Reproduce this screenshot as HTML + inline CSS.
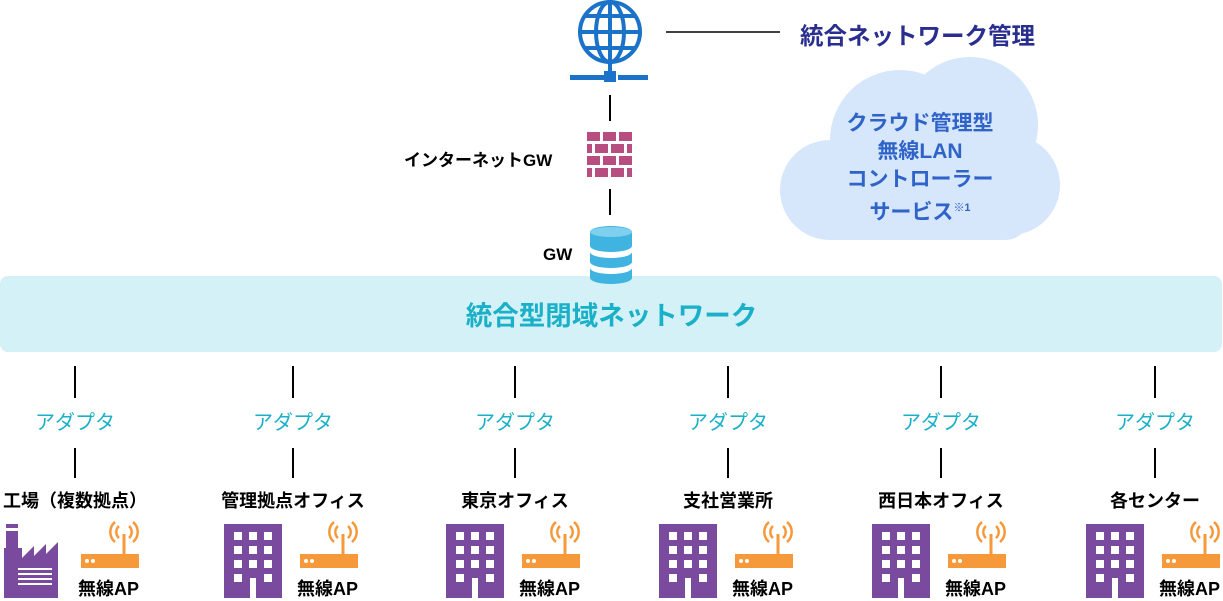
<!DOCTYPE html>
<html><head><meta charset="utf-8"><style>
body{margin:0;width:1223px;height:598px;overflow:hidden;background:#fff;font-family:"Liberation Sans","Noto Sans CJK JP",sans-serif;position:relative}
.a{position:absolute}
.t{position:absolute;white-space:nowrap;font-weight:bold}
</style></head><body>
<svg class="a" style="left:0;top:0" width="1223" height="598" xmlns="http://www.w3.org/2000/svg">
<g stroke="#1a73c8" stroke-width="4" fill="none">
<circle cx="610" cy="32" r="30"/>
<ellipse cx="610" cy="32" rx="14" ry="30"/>
<line x1="610" y1="2" x2="610" y2="62"/>
<line x1="580" y1="32" x2="640" y2="32"/>
<path d="M585 16 H635 M585 48 H635"/>
</g>
<rect x="570" y="75" width="34" height="5" fill="#1a73c8"/>
<rect x="618" y="75" width="30" height="5" fill="#1a73c8"/>
<rect x="604" y="71" width="12" height="11" fill="#1a73c8"/>
<line x1="610" y1="62" x2="610" y2="72" stroke="#1a73c8" stroke-width="4"/>
<line x1="666" y1="32" x2="780" y2="32" stroke="#000" stroke-width="1.5"/>
<line x1="610" y1="95" x2="610" y2="121" stroke="#000" stroke-width="2"/>
<line x1="610" y1="189" x2="610" y2="215" stroke="#000" stroke-width="2"/>
<g fill="#b84d7f">
<rect x="587" y="132" width="13" height="9"/><rect x="603" y="132" width="13" height="9"/><rect x="619" y="132" width="13" height="9"/>
<rect x="587" y="144" width="5" height="9"/><rect x="595" y="144" width="13" height="9"/><rect x="611" y="144" width="13" height="9"/><rect x="627" y="144" width="5" height="9"/>
<rect x="587" y="156" width="13" height="9"/><rect x="603" y="156" width="13" height="9"/><rect x="619" y="156" width="13" height="9"/>
<rect x="587" y="168" width="5" height="9"/><rect x="595" y="168" width="13" height="9"/><rect x="611" y="168" width="13" height="9"/><rect x="627" y="168" width="5" height="9"/>
</g>
<g fill="#d6e6fb">
<circle cx="830" cy="190" r="50"/>
<circle cx="900" cy="140" r="70"/>
<circle cx="970" cy="125" r="68"/>
<circle cx="1010" cy="185" r="50"/>
<rect x="830" y="150" width="180" height="90" rx="10"/>
<rect x="810" y="190" width="220" height="50" rx="25"/>
</g>
<rect x="0" y="276" width="1222" height="76" rx="8" fill="#d3f1f7"/>
<g fill="#40b4e0">
<path d="M590 232 a21 6 0 0 1 42 0 v14 a21 6 0 0 1 -42 0z"/>
<path d="M590 252 a21 6 0 0 0 42 0 v10 a21 6 0 0 1 -42 0z"/>
<path d="M590 268 a21 6 0 0 0 42 0 v10 a21 6 0 0 1 -42 0z"/>
</g>
<ellipse cx="611" cy="232" rx="21" ry="5" fill="#7fd0ee"/>
</svg>
<div class="t" style="left:800px;top:17px;font-size:23.5px;color:#2a2f8f">統合ネットワーク管理</div>
<div class="t" style="left:790px;top:110px;width:260px;text-align:center;font-size:21px;line-height:28px;color:#2f63c8">クラウド管理型<br>無線LAN<br>コントローラー<br>サービス<sup style="font-size:11px">※1</sup></div>
<div class="t" style="left:404px;top:146px;font-size:17px">インターネットGW</div>
<div class="t" style="left:543px;top:245px;font-size:17px">GW</div>
<div class="t" style="left:0;top:294px;width:1223px;text-align:center;font-size:26.5px;color:#1ab0c8">統合型閉域ネットワーク</div>
<svg class="a" style="left:0;top:0" width="1223" height="598" xmlns="http://www.w3.org/2000/svg" id="cols">
<g stroke="#000" stroke-width="2">
<line x1="75" y1="366" x2="75" y2="398"/><line x1="75" y1="448" x2="75" y2="478"/>
<line x1="293" y1="366" x2="293" y2="398"/><line x1="293" y1="448" x2="293" y2="478"/>
<line x1="515" y1="366" x2="515" y2="398"/><line x1="515" y1="448" x2="515" y2="478"/>
<line x1="728" y1="366" x2="728" y2="398"/><line x1="728" y1="448" x2="728" y2="478"/>
<line x1="941" y1="366" x2="941" y2="398"/><line x1="941" y1="448" x2="941" y2="478"/>
<line x1="1155" y1="366" x2="1155" y2="398"/><line x1="1155" y1="448" x2="1155" y2="478"/>
</g>
<g fill="#7a4a9e">
<rect x="6" y="524" width="12" height="4"/><rect x="6" y="531" width="12" height="30"/>
<path d="M4 598 V548 L22 548 L22 558 L34 546 V556 L46 544 V554 L58 542 V598Z"/>
</g>
<g fill="#fff"><rect x="18" y="568" width="34" height="2"/><rect x="18" y="573" width="34" height="2"/><rect x="18" y="578" width="34" height="2"/><rect x="18" y="583" width="34" height="2"/></g>
</svg>
<script>
var cx=[75,293,515,728,941,1155];
var labels=["工場（複数拠点）","管理拠点オフィス","東京オフィス","支社営業所","西日本オフィス","各センター"];
var s=document.getElementById('cols');var h='';
cx.forEach(function(c,i){
 var bx=c-69;
 if(i>0){
  h+='<rect x="'+bx+'" y="524" width="58" height="74" fill="#7a4a9e"/>';
  for(var r=0;r<4;r++)for(var k=0;k<3;k++){
   if(r==3&&k==1)continue;
   h+='<rect x="'+(bx+10+k*15)+'" y="'+(532+r*14)+'" width="8" height="8" fill="#fff"/>';
  }
  h+='<rect x="'+(bx+26)+'" y="578" width="6" height="20" fill="#fff"/>';
 }
 var rx=c+7; if(i==0) rx=81;
 h+='<rect x="'+rx+'" y="554" width="58" height="14" fill="#f6993a"/>';
 h+='<circle cx="'+(rx+6)+'" cy="561" r="2" fill="#fff"/><circle cx="'+(rx+12)+'" cy="561" r="2" fill="#fff"/>';
 var ax=rx+43;
 h+='<line x1="'+ax+'" y1="534" x2="'+ax+'" y2="554" stroke="#f6993a" stroke-width="3"/>';
 h+='<path d="M'+(ax-5)+' 526 a8 8 0 0 0 0 12 M'+(ax+5)+' 526 a8 8 0 0 1 0 12 M'+(ax-9)+' 522 a13 13 0 0 0 0 20 M'+(ax+9)+' 522 a13 13 0 0 1 0 20" stroke="#f6993a" stroke-width="2.5" fill="none"/>';
 var d=document.createElement('div');d.className='t';d.style.cssText='left:'+(c-100)+'px;top:406px;width:200px;text-align:center;font-size:20px;color:#1ab0c8;font-weight:normal';d.textContent='アダプタ';document.body.appendChild(d);
 d=document.createElement('div');d.className='t';d.style.cssText='left:'+(c-100)+'px;top:487px;width:200px;text-align:center;font-size:18px';d.textContent=labels[i];document.body.appendChild(d);
 d=document.createElement('div');d.className='t';d.style.cssText='left:'+(rx-3)+'px;top:575px;font-size:18px';d.textContent='無線AP';document.body.appendChild(d);
});
s.insertAdjacentHTML('beforeend',h);
</script>
</body></html>
